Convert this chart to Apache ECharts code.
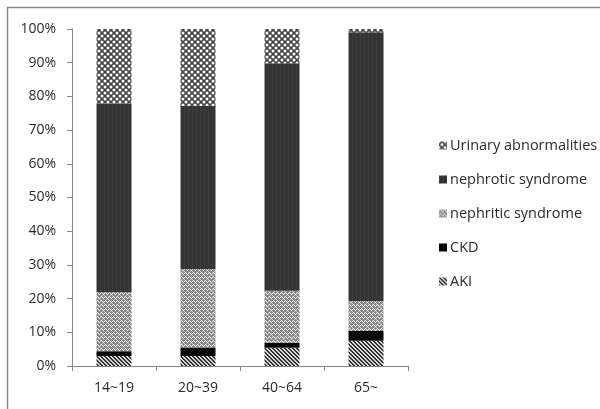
<!DOCTYPE html>
<html>
<head>
<meta charset="utf-8">
<script src="https://cdn.jsdelivr.net/npm/echarts@6/dist/echarts.min.js"></script>
<style>
html,body{margin:0;padding:0;background:#fff;}
#c{width:600px;height:409px;}
</style>
</head>
<body>
<div id="c"></div>
<script>
var categories = ['14~19', '20~39', '40~64', '65~'];
var aki = [3.0, 3.0, 5.4, 7.5];
var ckd = [1.4, 2.5, 1.5, 2.9];
var nephritic = [17.5, 23.2, 15.4, 8.8];
var nephrotic = [56.0, 48.5, 67.5, 79.8];
var urinary = [22.1, 22.8, 10.2, 1.0];
var yTicks = [0, 10, 20, 30, 40, 50, 60, 70, 80, 90, 100];

function makeTile(w, h, draw) {
  var c = document.createElement('canvas');
  c.width = w; c.height = h;
  var ctx = c.getContext('2d');
  draw(ctx, w, h);
  return { image: c, repeat: 'repeat' };
}

var akiFill = makeTile(4, 4, function (ctx, w, h) {
  ctx.fillStyle = '#d8d8d8'; ctx.fillRect(0, 0, w, h);
  ctx.fillStyle = '#303030';
  for (var i = 0; i < 4; i++) { ctx.fillRect(i, i, 1, 1); ctx.fillRect((i + 1) % 4, i, 1, 1); }
});
var nephriticFill = makeTile(8, 8, function (ctx, w, h) {
  ctx.fillStyle = '#8a8a8a'; ctx.fillRect(0, 0, w, h);
  ctx.fillStyle = '#f0f0f0';
  var pts = [[0,1],[1,0],[2,1],[3,2],[4,1],[5,0],[6,1],[7,2],[0,5],[1,4],[2,5],[3,6],[4,5],[5,4],[6,5],[7,6]];
  pts.forEach(function (p) { ctx.fillRect(p[0], p[1], 1, 1); });
  ctx.fillStyle = '#c0c0c0';
  var p2 = [[2,3],[6,7],[0,7],[4,3]];
  p2.forEach(function (p) { ctx.fillRect(p[0], p[1], 1, 1); });
});
var nephroticFill = makeTile(4, 4, function (ctx, w, h) {
  ctx.fillStyle = '#333333'; ctx.fillRect(0, 0, w, h);
  ctx.fillStyle = '#3d3d3d'; ctx.fillRect(0, 0, 1, 4); ctx.fillRect(2, 1, 1, 1);
});
var urinaryFill = makeTile(6, 6, function (ctx, w, h) {
  ctx.fillStyle = '#444444'; ctx.fillRect(0, 0, w, h);
  ctx.fillStyle = '#ffffff';
  ctx.beginPath(); ctx.arc(0, 0, 1.5, 0, Math.PI * 2); ctx.fill();
  ctx.beginPath(); ctx.arc(6, 0, 1.5, 0, Math.PI * 2); ctx.fill();
  ctx.beginPath(); ctx.arc(0, 6, 1.5, 0, Math.PI * 2); ctx.fill();
  ctx.beginPath(); ctx.arc(6, 6, 1.5, 0, Math.PI * 2); ctx.fill();
  ctx.beginPath(); ctx.arc(3, 3, 1.5, 0, Math.PI * 2); ctx.fill();
});

var names = ['AKI', 'CKD', 'nephritic syndrome', 'nephrotic syndrome', 'Urinary abnormalities'];
var datas = [aki, ckd, nephritic, nephrotic, urinary];
var fills = [akiFill, '#050505', nephriticFill, nephroticFill, urinaryFill];

var series = names.map(function (n, i) {
  return {
    name: n, type: 'bar', stack: 'total', barWidth: 35,
    data: datas[i],
    itemStyle: { color: fills[i] },
    emphasis: { disabled: true }
  };
});

var chart = echarts.init(document.getElementById('c'), null, { renderer: 'canvas' });
chart.setOption({
  animation: false,
  backgroundColor: '#fff',
  grid: { left: 72, right: 192, top: 29, bottom: 43, containLabel: false },
  xAxis: {
    type: 'category', data: categories,
    axisLine: { lineStyle: { color: '#888', width: 1 } },
    axisTick: { show: true, length: 5, alignWithLabel: false, lineStyle: { color: '#888' } },
    axisLabel: { color: '#2a2a2a', fontFamily: 'Open Sans', fontSize: 14, margin: 15 }
  },
  yAxis: {
    type: 'value', min: 0, max: 100, interval: 10,
    axisLine: { show: true, lineStyle: { color: '#888', width: 1 } },
    axisTick: { show: true, length: 5, lineStyle: { color: '#888' } },
    splitLine: { show: false },
    axisLabel: { color: '#2a2a2a', fontFamily: 'Open Sans', fontSize: 14, margin: 16,
      formatter: function (v) { return yTicks.indexOf(v) >= 0 ? v + '%' : ''; } }
  },
  legend: {
    orient: 'vertical', left: 434, top: 133, itemGap: 19,
    itemWidth: 8, itemHeight: 8, icon: 'rect',
    data: names.slice().reverse(),
    textStyle: { color: '#2a2a2a', fontFamily: 'Open Sans', fontSize: 14.5, padding: [0, 0, 0, -2] }
  },
  graphic: [{
    type: 'rect', shape: { x: 7.5, y: 7.5, width: 620, height: 430 },
    style: { fill: 'none', stroke: '#888', lineWidth: 1.5 }, silent: true
  }],
  series: series
});
</script>
</body>
</html>
